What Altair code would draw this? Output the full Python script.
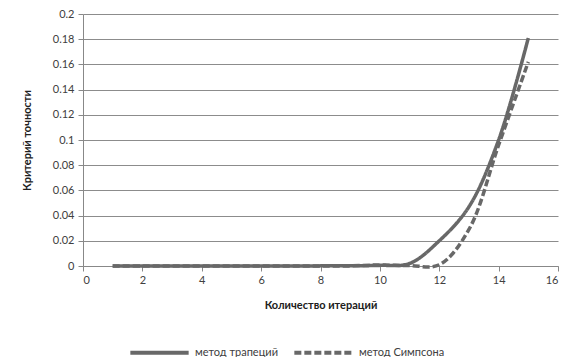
import altair as alt
import pandas as pd

iterations = list(range(1, 16))
trapezoid = [0.0, 0.0, 0.0, 0.0, 0.0, 0.0, 0.0, 0.0001, 0.0002, 0.0005, 0.002, 0.020, 0.047, 0.100, 0.181]
simpson = [0.0, 0.0, 0.0, 0.0, 0.0, 0.0, 0.0, 0.0, 0.0001, 0.0008, 0.0003, 0.001, 0.029, 0.096, 0.162]
series_names = ["метод трапеций", "метод Симпсона"]

rows = []
for i, x in enumerate(iterations):
    rows.append({"x": x, "y": trapezoid[i], "s": series_names[0]})
    rows.append({"x": x, "y": simpson[i], "s": series_names[1]})
df = pd.DataFrame(rows)

FONT = "Lato"
GRAY = "#686868"

chart = alt.Chart(df).mark_line(strokeWidth=3.5, interpolate="catmull-rom").encode(
    x=alt.X("x:Q", scale=alt.Scale(domain=[0, 16], nice=False),
            axis=alt.Axis(values=list(range(0, 17, 2)), title="Количество итераций",
                          grid=False, tickSize=5, labelPadding=3, titlePadding=14)),
    y=alt.Y("y:Q", scale=alt.Scale(domain=[0, 0.2], nice=False),
            axis=alt.Axis(values=[round(v * 0.02, 2) for v in range(11)], title="Критерий точности",
                          grid=True, tickSize=5, labelPadding=4, titlePadding=20, format="~g")),
    color=alt.Color("s:N", scale=alt.Scale(domain=series_names, range=[GRAY, GRAY]),
                    legend=alt.Legend(title=None, orient="none", legendX=45, legendY=307,
                                      direction="horizontal", symbolType="stroke",
                                      symbolSize=3400, symbolStrokeWidth=4,
                                      labelFont=FONT, labelFontSize=11, labelColor="#404040",
                                      columnPadding=8, labelOffset=4)),
    strokeDash=alt.StrokeDash("s:N", scale=alt.Scale(domain=series_names, range=[[1, 0], [7, 3]]),
                              legend=None),
).properties(
    width=475, height=252,
    autosize=alt.AutoSizeParams(type="none"),
    padding={"left": 75, "top": 6, "right": 3, "bottom": 91},
).configure_axis(
    labelFont=FONT, labelFontSize=11, labelColor="#404040",
    titleFont=FONT, titleFontSize=11, titleFontWeight="bold", titleColor="#202020",
    domainColor="#888888", tickColor="#888888", gridColor="#8c8c8c",
).configure_view(stroke=None).configure_legend(
    symbolStrokeColor=GRAY
)

chart.save("out.html", embed_options={"renderer": "svg", "actions": False})
